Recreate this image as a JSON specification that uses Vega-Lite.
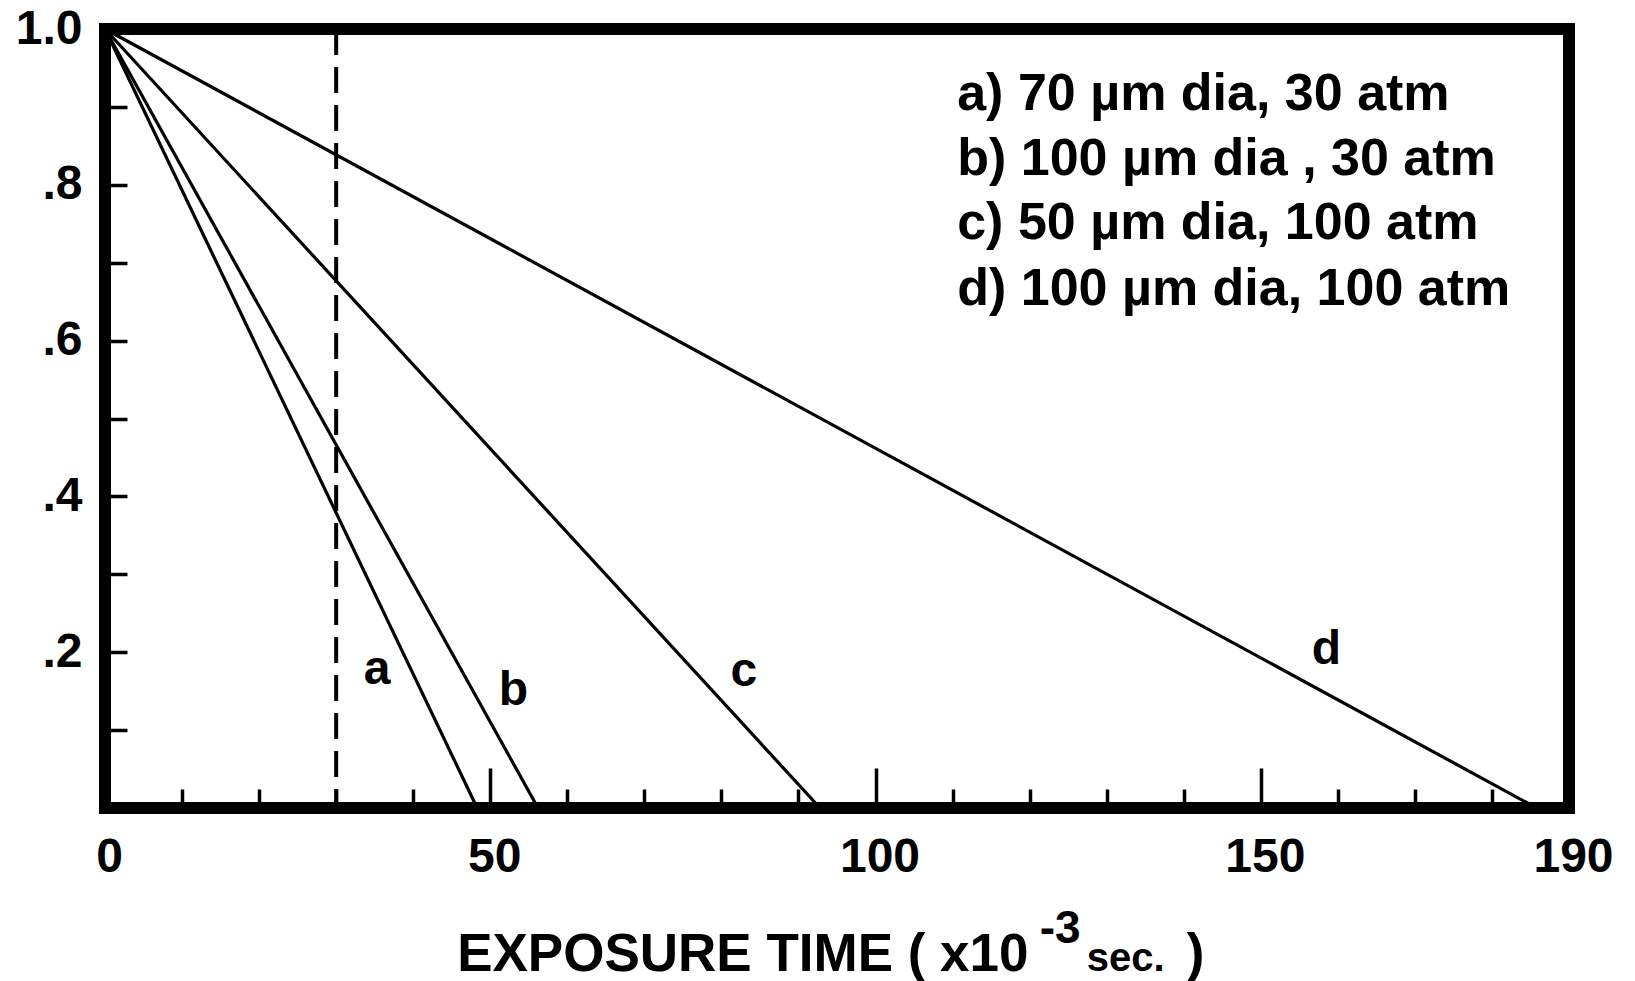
{
  "$schema": "https://vega.github.io/schema/vega-lite/v6.json",
  "width": 1464,
  "height": 779,
  "autosize": {"type": "none"},
  "padding": {"left": 105, "top": 29, "right": 66, "bottom": 173},
  "background": "white",
  "config": {
    "view": {"stroke": "black", "strokeWidth": 12},
    "axis": {"grid": false, "domain": false}
  },
  "resolve": {"axis": {"x": "independent", "y": "independent"}},
  "layer": [
    {
      "data": {"values": [
        {"series": "a", "x": 0, "y": 1.0}, {"series": "a", "x": 48.3, "y": 0},
        {"series": "b", "x": 0, "y": 1.0}, {"series": "b", "x": 56.2, "y": 0},
        {"series": "c", "x": 0, "y": 1.0}, {"series": "c", "x": 92.8, "y": 0},
        {"series": "d", "x": 0, "y": 1.0}, {"series": "d", "x": 185.8, "y": 0}
      ]},
      "mark": {"type": "line", "color": "black", "strokeWidth": 3.2},
      "encoding": {
        "x": {"field": "x", "type": "quantitative",
          "scale": {"domain": [0, 190], "nice": false, "zero": false},
          "axis": {
            "orient": "bottom", "title": null,
            "values": [10, 20, 30, 40, 60, 70, 80, 90, 110, 120, 130, 140, 160, 170, 180],
            "tickSize": -19, "tickWidth": 3.5, "tickColor": "black",
            "labels": false
          }},
        "y": {"field": "y", "type": "quantitative",
          "scale": {"domain": [0, 1], "nice": false},
          "axis": {
            "orient": "left", "title": null,
            "values": [0.1, 0.2, 0.3, 0.4, 0.5, 0.6, 0.7, 0.8, 0.9, 1.0],
            "tickSize": -22, "tickWidth": 3.5, "tickColor": "black",
            "labelExpr": "datum.value > 0.95 ? '1.0' : (round(datum.value * 10) % 2 == 0 ? '.' + round(datum.value * 10) : '')",
            "labelFont": "Liberation Sans", "labelFontWeight": "bold", "labelFontSize": 48, "labelColor": "black",
            "labelPadding": 45, "labelFlush": false, "labelOverlap": false, "labelBound": false
          }},
        "detail": {"field": "series"}
      }
    },
    {
      "data": {"values": [{"x": 30}]},
      "mark": {"type": "rule", "color": "black", "strokeWidth": 4, "strokeDash": [26, 12]},
      "encoding": {"x": {"field": "x", "type": "quantitative",
        "axis": {
          "orient": "bottom", "title": null,
          "values": [0, 50, 100, 150, 190],
          "tickSize": -40, "tickWidth": 3.5, "tickColor": "black",
          "labelFont": "Liberation Sans", "labelFontWeight": "bold", "labelFontSize": 48, "labelColor": "black",
          "labelPadding": 65, "labelFlush": false, "labelOverlap": false, "labelBound": false,
          "labelOffset": 4
        }}}
    },
    {
      "data": {"values": [
        {"label": "a", "x": 35.3, "y": 0.159},
        {"label": "b", "x": 53.0, "y": 0.132},
        {"label": "c", "x": 82.9, "y": 0.157},
        {"label": "d", "x": 158.5, "y": 0.185}
      ]},
      "mark": {"type": "text", "font": "Liberation Sans", "fontWeight": "bold", "fontSize": 48, "align": "center", "baseline": "alphabetic", "color": "black"},
      "encoding": {
        "x": {"field": "x", "type": "quantitative", "axis": null},
        "y": {"field": "y", "type": "quantitative", "axis": null},
        "text": {"field": "label"}
      }
    },
    {
      "data": {"values": [
        {"text": "a) 70 µm dia, 30 atm", "x": 110.6, "y": 0.896},
        {"text": "b) 100 µm dia , 30 atm", "x": 110.6, "y": 0.813},
        {"text": "c) 50 µm dia, 100 atm", "x": 110.6, "y": 0.730},
        {"text": "d) 100 µm dia, 100 atm", "x": 110.6, "y": 0.646}
      ]},
      "mark": {"type": "text", "font": "Liberation Sans", "fontWeight": "bold", "fontSize": 52, "align": "left", "baseline": "alphabetic", "color": "black"},
      "encoding": {
        "x": {"field": "x", "type": "quantitative", "axis": null},
        "y": {"field": "y", "type": "quantitative", "axis": null},
        "text": {"field": "text"}
      }
    },
    {
      "data": {"values": [
        {"text": "EXPOSURE TIME ( x10", "x": 45.7, "y": -0.2092},
        {"text": ")", "x": 140.4, "y": -0.2092}
      ]},
      "mark": {"type": "text", "font": "Liberation Sans", "fontWeight": "bold", "fontSize": 53, "align": "left", "baseline": "alphabetic", "color": "black"},
      "encoding": {
        "x": {"field": "x", "type": "quantitative", "axis": null},
        "y": {"field": "y", "type": "quantitative", "axis": null},
        "text": {"field": "text"}
      }
    },
    {
      "data": {"values": [{"text": "-3", "x": 121.3, "y": -0.1733}]},
      "mark": {"type": "text", "font": "Liberation Sans", "fontWeight": "bold", "fontSize": 46, "align": "left", "baseline": "alphabetic", "color": "black"},
      "encoding": {
        "x": {"field": "x", "type": "quantitative", "axis": null},
        "y": {"field": "y", "type": "quantitative", "axis": null},
        "text": {"field": "text"}
      }
    },
    {
      "data": {"values": [{"text": "sec.", "x": 127.4, "y": -0.2092}]},
      "mark": {"type": "text", "font": "Liberation Sans", "fontWeight": "bold", "fontSize": 40, "align": "left", "baseline": "alphabetic", "color": "black"},
      "encoding": {
        "x": {"field": "x", "type": "quantitative", "axis": null},
        "y": {"field": "y", "type": "quantitative", "axis": null},
        "text": {"field": "text"}
      }
    }
  ]
}
